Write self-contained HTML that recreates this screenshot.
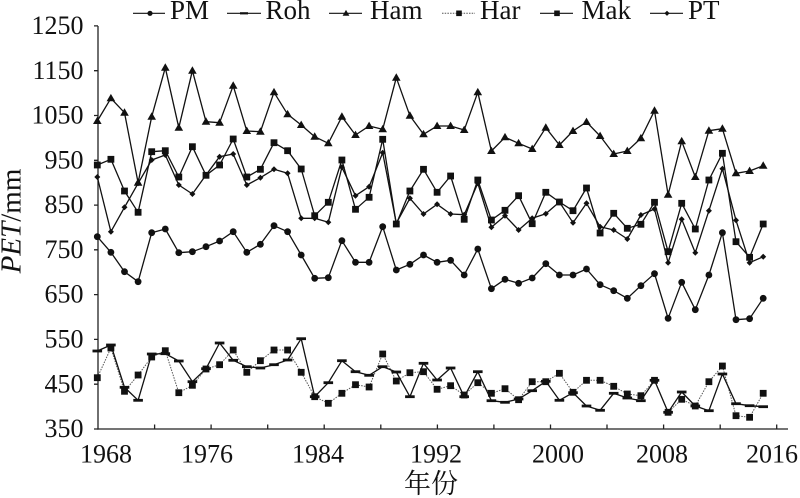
<!DOCTYPE html>
<html>
<head>
<meta charset="utf-8">
<style>
html,body{margin:0;padding:0;background:#fff;}
svg{display:block;}
text{font-family:"Liberation Serif","Noto Serif CJK SC",serif;fill:#111;}
</style>
</head>
<body>
<svg width="800" height="498" viewBox="0 0 800 498" xmlns="http://www.w3.org/2000/svg">
<defs>
  <circle id="c" r="3.4" fill="#111"/>
  <path id="t" d="M0,-4.4 L4.3,3 L-4.3,3Z" fill="#111"/>
  <rect id="s" x="-3.4" y="-3.4" width="6.8" height="6.8" fill="#111"/>
  <rect id="d" x="-4.8" y="-1.4" width="9.6" height="2.8" fill="#111"/>
  <path id="m" d="M0,-3 L3,0 L0,3 L-3,0Z" fill="#111"/>
  <circle id="lc" r="2.6" fill="#111"/>
  <path id="lt" d="M0,-3.4 L3.4,2.4 L-3.4,2.4Z" fill="#111"/>
  <rect id="ls" x="-2.8" y="-2.8" width="5.6" height="5.6" fill="#111"/>
  <rect id="ld" x="-4" y="-1.1" width="8" height="2.2" fill="#111"/>
  <path id="lm" d="M0,-2.6 L2.6,0 L0,2.6 L-2.6,0Z" fill="#111"/>
</defs>

<!-- Legend -->
<g stroke="#111" stroke-width="1.2">
  <line x1="133" y1="13.3" x2="165" y2="13.3"/>
  <line x1="227" y1="13.3" x2="261" y2="13.3"/>
  <line x1="329" y1="13.3" x2="362" y2="13.3"/>
  <line x1="442" y1="13.3" x2="475" y2="13.3" stroke="#555" stroke-dasharray="1.5,1.2" stroke-width="1"/>
  <line x1="540" y1="13.3" x2="573" y2="13.3"/>
  <line x1="650" y1="13.3" x2="683" y2="13.3"/>
</g>
<use href="#lc" x="150" y="13.3"/>
<use href="#ld" x="244" y="13.3"/>
<use href="#lt" x="346" y="13.3"/>
<use href="#ls" x="459" y="13.3"/>
<use href="#ls" x="557" y="13.3"/>
<use href="#lm" x="667" y="13.3"/>
<g font-size="27">
  <text x="170" y="19">PM</text>
  <text x="265.5" y="19">Roh</text>
  <text x="370" y="19">Ham</text>
  <text x="480" y="19">Har</text>
  <text x="581.5" y="19">Mak</text>
  <text x="688" y="19">PT</text>
</g>

<!-- Axes -->
<g stroke="#222" stroke-width="1.3" fill="none">
  <line x1="98" y1="26" x2="98" y2="429.6"/>
  <line x1="97.4" y1="429" x2="788" y2="429"/>
  <path d="M94,25.9H98 M94,70.7H98 M94,115.5H98 M94,160.3H98 M94,205.1H98 M94,249.8H98 M94,294.6H98 M94,339.4H98 M94,384.2H98 M94,429H98"/>
  <path d="M154.6,429V424.5 M211.1,429V424.5 M267.7,429V424.5 M324.2,429V424.5 M380.8,429V424.5 M437.4,429V424.5 M493.9,429V424.5 M550.5,429V424.5 M607,429V424.5 M663.6,429V424.5 M720.2,429V424.5 M776.7,429V424.5"/>
</g>

<!-- Y tick labels -->
<g font-size="26" text-anchor="end">
  <text x="83.5" y="34">1250</text>
  <text x="83.5" y="78.8">1150</text>
  <text x="83.5" y="123.6">1050</text>
  <text x="83.5" y="168.4">950</text>
  <text x="83.5" y="213.2">850</text>
  <text x="83.5" y="257.9">750</text>
  <text x="83.5" y="302.7">650</text>
  <text x="83.5" y="347.5">550</text>
  <text x="83.5" y="392.3">450</text>
  <text x="83.5" y="437.1">350</text>
</g>
<!-- X tick labels -->
<g font-size="26" text-anchor="middle">
  <text x="106" y="462.5">1968</text>
  <text x="207" y="462.5">1976</text>
  <text x="318" y="462.5">1984</text>
  <text x="436" y="462.5">1992</text>
  <text x="558" y="462.5">2000</text>
  <text x="662" y="462.5">2008</text>
  <text x="772" y="462.5">2016</text>
</g>
<text x="431" y="493" font-size="27" text-anchor="middle" font-family="'Noto Serif CJK SC','Noto Sans CJK SC',serif">年份</text>
<text transform="translate(20.5,221) rotate(-90)" font-size="29" text-anchor="middle"><tspan font-style="italic">PET</tspan>/mm</text>

<!-- Series lines -->
<g fill="none" stroke-linejoin="round">
<!-- Har dotted -->
<polyline stroke="#555" stroke-width="1" stroke-dasharray="1.5,1.2" points="97.3,377.7 110.9,348 124.5,391.3 138.1,375 151.7,357 165.3,350.7 178.8,392.7 192.4,385.3 206,369 219.6,364.7 233.2,350 246.8,372.3 260.4,360.7 274,350 287.6,350 301.2,372.3 314.7,396.7 328.3,403.3 341.9,393.3 355.5,384.7 369.1,387 382.7,354 396.3,381 409.9,372.7 423.5,371.7 437.1,389.3 450.6,385.7 464.2,395 477.8,382.7 491.4,393.3 505,388.7 518.6,399.7 532.2,381.7 545.8,381.7 559.4,373.3 573,392.3 586.5,380.3 600.1,380.3 613.7,386.3 627.3,394 640.9,395.7 654.5,380.3 668.1,412.3 681.7,399.3 695.3,406 708.9,381.7 722.4,366 736,415.7 749.6,417.3 763.2,393.3"/>
<g stroke="#111" stroke-width="1.3">
<!-- Roh -->
<polyline points="97.3,351 110.9,345 124.5,387.3 138.1,400.3 151.7,354 165.3,353.7 178.8,361 192.4,381.7 206,368.7 219.6,343 233.2,360.3 246.8,366.7 260.4,368 274,364.7 287.6,360 301.2,338.7 314.7,396.7 328.3,382.7 341.9,360.7 355.5,371.7 369.1,375.3 382.7,366.7 396.3,372 409.9,396.7 423.5,363.3 437.1,380 450.6,368 464.2,396.7 477.8,371.7 491.4,400.7 505,402.3 518.6,399 532.2,390.7 545.8,381.3 559.4,400.3 573,392.7 586.5,406 600.1,410.3 613.7,393.3 627.3,398 640.9,400.7 654.5,380.3 668.1,412.3 681.7,392 695.3,406 708.9,410.7 722.4,374 736,403.7 749.6,405.7 763.2,406.7"/>
<!-- PM -->
<polyline points="97.3,236.7 110.9,252.3 124.5,271.7 138.1,281.7 151.7,232.7 165.3,229 178.8,252.7 192.4,251.7 206,246.7 219.6,241 233.2,231.7 246.8,252.3 260.4,244.3 274,225.7 287.6,231.7 301.2,255 314.7,278.3 328.3,277.7 341.9,240.7 355.5,262.3 369.1,262.3 382.7,226.7 396.3,270 409.9,264.3 423.5,255 437.1,262.3 450.6,260.3 464.2,275 477.8,249 491.4,288.7 505,279.3 518.6,283.3 532.2,278 545.8,263.7 559.4,275 573,275 586.5,269 600.1,284.7 613.7,290.7 627.3,298.3 640.9,285.7 654.5,273.7 668.1,318.3 681.7,282.3 695.3,309.7 708.9,275 722.4,232.7 736,319.7 749.6,318.7 763.2,298.3"/>
<!-- PT -->
<polyline points="97.3,177 110.9,231.7 124.5,207.3 138.1,183.3 151.7,160 165.3,155 178.8,185 192.4,194 206,175 219.6,156.7 233.2,154 246.8,185 260.4,177.7 274,169.3 287.6,173.3 301.2,218.3 314.7,218.3 328.3,222.3 341.9,167.3 355.5,195.7 369.1,186.7 382.7,152.7 396.3,223.3 409.9,198.3 423.5,214 437.1,204.3 450.6,214 464.2,214.7 477.8,183.3 491.4,227.3 505,215.7 518.6,230 532.2,218.3 545.8,213.7 559.4,202 573,222.7 586.5,203.3 600.1,226.7 613.7,230 627.3,239 640.9,215 654.5,209 668.1,262.7 681.7,219.3 695.3,252.7 708.9,210.7 722.4,168.7 736,220.3 749.6,262.7 763.2,256.7"/>
<!-- Mak -->
<polyline points="97.3,165 110.9,159.3 124.5,191 138.1,212.3 151.7,151.7 165.3,150.7 178.8,177 192.4,146.7 206,175.3 219.6,165 233.2,139 246.8,177 260.4,169.3 274,142.7 287.6,150.7 301.2,169 314.7,215.7 328.3,202.3 341.9,160 355.5,209.3 369.1,197.3 382.7,139.3 396.3,224 409.9,191 423.5,169.3 437.1,192.3 450.6,176 464.2,219.3 477.8,180 491.4,220 505,210.3 518.6,195.7 532.2,223.7 545.8,192.3 559.4,202 573,210.7 586.5,188 600.1,233 613.7,213.3 627.3,228.3 640.9,224.3 654.5,202.3 668.1,251.7 681.7,203.3 695.3,229 708.9,180 722.4,153.3 736,241.7 749.6,257.3 763.2,224"/>
<!-- Ham -->
<polyline points="97.3,121 110.9,98.3 124.5,112.7 138.1,182.7 151.7,116.7 165.3,67.7 178.8,127.7 192.4,70.7 206,121.7 219.6,122.7 233.2,85.7 246.8,131 260.4,131.7 274,92.3 287.6,114.3 301.2,125 314.7,136.7 328.3,143.3 341.9,116.7 355.5,135 369.1,126 382.7,129.3 396.3,77.7 409.9,115.7 423.5,134.3 437.1,126 450.6,126 464.2,130 477.8,92.3 491.4,151 505,137.3 518.6,143.3 532.2,149 545.8,127.7 559.4,145 573,131 586.5,122 600.1,136 613.7,154 627.3,151 640.9,138.3 654.5,110.7 668.1,194.7 681.7,141.3 695.3,177 708.9,130.7 722.4,128.7 736,173.3 749.6,171 763.2,165.7"/>
</g>
</g>

<!-- Har markers -->
<g>
<use href="#s" x="97.3" y="377.7"/><use href="#s" x="110.9" y="348"/><use href="#s" x="124.5" y="391.3"/><use href="#s" x="138.1" y="375"/><use href="#s" x="151.7" y="357"/><use href="#s" x="165.3" y="350.7"/><use href="#s" x="178.8" y="392.7"/><use href="#s" x="192.4" y="385.3"/><use href="#s" x="206" y="369"/><use href="#s" x="219.6" y="364.7"/><use href="#s" x="233.2" y="350"/><use href="#s" x="246.8" y="372.3"/><use href="#s" x="260.4" y="360.7"/><use href="#s" x="274" y="350"/><use href="#s" x="287.6" y="350"/><use href="#s" x="301.2" y="372.3"/><use href="#s" x="314.7" y="396.7"/><use href="#s" x="328.3" y="403.3"/><use href="#s" x="341.9" y="393.3"/><use href="#s" x="355.5" y="384.7"/><use href="#s" x="369.1" y="387"/><use href="#s" x="382.7" y="354"/><use href="#s" x="396.3" y="381"/><use href="#s" x="409.9" y="372.7"/><use href="#s" x="423.5" y="371.7"/><use href="#s" x="437.1" y="389.3"/><use href="#s" x="450.6" y="385.7"/><use href="#s" x="464.2" y="395"/><use href="#s" x="477.8" y="382.7"/><use href="#s" x="491.4" y="393.3"/><use href="#s" x="505" y="388.7"/><use href="#s" x="518.6" y="399.7"/><use href="#s" x="532.2" y="381.7"/><use href="#s" x="545.8" y="381.7"/><use href="#s" x="559.4" y="373.3"/><use href="#s" x="573" y="392.3"/><use href="#s" x="586.5" y="380.3"/><use href="#s" x="600.1" y="380.3"/><use href="#s" x="613.7" y="386.3"/><use href="#s" x="627.3" y="394"/><use href="#s" x="640.9" y="395.7"/><use href="#s" x="654.5" y="380.3"/><use href="#s" x="668.1" y="412.3"/><use href="#s" x="681.7" y="399.3"/><use href="#s" x="695.3" y="406"/><use href="#s" x="708.9" y="381.7"/><use href="#s" x="722.4" y="366"/><use href="#s" x="736" y="415.7"/><use href="#s" x="749.6" y="417.3"/><use href="#s" x="763.2" y="393.3"/>
</g>
<!-- Roh markers -->
<g>
<use href="#d" x="97.3" y="351"/><use href="#d" x="110.9" y="345"/><use href="#d" x="124.5" y="387.3"/><use href="#d" x="138.1" y="400.3"/><use href="#d" x="151.7" y="354"/><use href="#d" x="165.3" y="353.7"/><use href="#d" x="178.8" y="361"/><use href="#d" x="192.4" y="381.7"/><use href="#d" x="206" y="368.7"/><use href="#d" x="219.6" y="343"/><use href="#d" x="233.2" y="360.3"/><use href="#d" x="246.8" y="366.7"/><use href="#d" x="260.4" y="368"/><use href="#d" x="274" y="364.7"/><use href="#d" x="287.6" y="360"/><use href="#d" x="301.2" y="338.7"/><use href="#d" x="314.7" y="396.7"/><use href="#d" x="328.3" y="382.7"/><use href="#d" x="341.9" y="360.7"/><use href="#d" x="355.5" y="371.7"/><use href="#d" x="369.1" y="375.3"/><use href="#d" x="382.7" y="366.7"/><use href="#d" x="396.3" y="372"/><use href="#d" x="409.9" y="396.7"/><use href="#d" x="423.5" y="363.3"/><use href="#d" x="437.1" y="380"/><use href="#d" x="450.6" y="368"/><use href="#d" x="464.2" y="396.7"/><use href="#d" x="477.8" y="371.7"/><use href="#d" x="491.4" y="400.7"/><use href="#d" x="505" y="402.3"/><use href="#d" x="518.6" y="399"/><use href="#d" x="532.2" y="390.7"/><use href="#d" x="545.8" y="381.3"/><use href="#d" x="559.4" y="400.3"/><use href="#d" x="573" y="392.7"/><use href="#d" x="586.5" y="406"/><use href="#d" x="600.1" y="410.3"/><use href="#d" x="613.7" y="393.3"/><use href="#d" x="627.3" y="398"/><use href="#d" x="640.9" y="400.7"/><use href="#d" x="654.5" y="380.3"/><use href="#d" x="668.1" y="412.3"/><use href="#d" x="681.7" y="392"/><use href="#d" x="695.3" y="406"/><use href="#d" x="708.9" y="410.7"/><use href="#d" x="722.4" y="374"/><use href="#d" x="736" y="403.7"/><use href="#d" x="749.6" y="405.7"/><use href="#d" x="763.2" y="406.7"/>
</g>
<!-- PM markers -->
<g>
<use href="#c" x="97.3" y="236.7"/><use href="#c" x="110.9" y="252.3"/><use href="#c" x="124.5" y="271.7"/><use href="#c" x="138.1" y="281.7"/><use href="#c" x="151.7" y="232.7"/><use href="#c" x="165.3" y="229"/><use href="#c" x="178.8" y="252.7"/><use href="#c" x="192.4" y="251.7"/><use href="#c" x="206" y="246.7"/><use href="#c" x="219.6" y="241"/><use href="#c" x="233.2" y="231.7"/><use href="#c" x="246.8" y="252.3"/><use href="#c" x="260.4" y="244.3"/><use href="#c" x="274" y="225.7"/><use href="#c" x="287.6" y="231.7"/><use href="#c" x="301.2" y="255"/><use href="#c" x="314.7" y="278.3"/><use href="#c" x="328.3" y="277.7"/><use href="#c" x="341.9" y="240.7"/><use href="#c" x="355.5" y="262.3"/><use href="#c" x="369.1" y="262.3"/><use href="#c" x="382.7" y="226.7"/><use href="#c" x="396.3" y="270"/><use href="#c" x="409.9" y="264.3"/><use href="#c" x="423.5" y="255"/><use href="#c" x="437.1" y="262.3"/><use href="#c" x="450.6" y="260.3"/><use href="#c" x="464.2" y="275"/><use href="#c" x="477.8" y="249"/><use href="#c" x="491.4" y="288.7"/><use href="#c" x="505" y="279.3"/><use href="#c" x="518.6" y="283.3"/><use href="#c" x="532.2" y="278"/><use href="#c" x="545.8" y="263.7"/><use href="#c" x="559.4" y="275"/><use href="#c" x="573" y="275"/><use href="#c" x="586.5" y="269"/><use href="#c" x="600.1" y="284.7"/><use href="#c" x="613.7" y="290.7"/><use href="#c" x="627.3" y="298.3"/><use href="#c" x="640.9" y="285.7"/><use href="#c" x="654.5" y="273.7"/><use href="#c" x="668.1" y="318.3"/><use href="#c" x="681.7" y="282.3"/><use href="#c" x="695.3" y="309.7"/><use href="#c" x="708.9" y="275"/><use href="#c" x="722.4" y="232.7"/><use href="#c" x="736" y="319.7"/><use href="#c" x="749.6" y="318.7"/><use href="#c" x="763.2" y="298.3"/>
</g>
<!-- PT markers -->
<g>
<use href="#m" x="97.3" y="177"/><use href="#m" x="110.9" y="231.7"/><use href="#m" x="124.5" y="207.3"/><use href="#m" x="138.1" y="183.3"/><use href="#m" x="151.7" y="160"/><use href="#m" x="165.3" y="155"/><use href="#m" x="178.8" y="185"/><use href="#m" x="192.4" y="194"/><use href="#m" x="206" y="175"/><use href="#m" x="219.6" y="156.7"/><use href="#m" x="233.2" y="154"/><use href="#m" x="246.8" y="185"/><use href="#m" x="260.4" y="177.7"/><use href="#m" x="274" y="169.3"/><use href="#m" x="287.6" y="173.3"/><use href="#m" x="301.2" y="218.3"/><use href="#m" x="314.7" y="218.3"/><use href="#m" x="328.3" y="222.3"/><use href="#m" x="341.9" y="167.3"/><use href="#m" x="355.5" y="195.7"/><use href="#m" x="369.1" y="186.7"/><use href="#m" x="382.7" y="152.7"/><use href="#m" x="396.3" y="223.3"/><use href="#m" x="409.9" y="198.3"/><use href="#m" x="423.5" y="214"/><use href="#m" x="437.1" y="204.3"/><use href="#m" x="450.6" y="214"/><use href="#m" x="464.2" y="214.7"/><use href="#m" x="477.8" y="183.3"/><use href="#m" x="491.4" y="227.3"/><use href="#m" x="505" y="215.7"/><use href="#m" x="518.6" y="230"/><use href="#m" x="532.2" y="218.3"/><use href="#m" x="545.8" y="213.7"/><use href="#m" x="559.4" y="202"/><use href="#m" x="573" y="222.7"/><use href="#m" x="586.5" y="203.3"/><use href="#m" x="600.1" y="226.7"/><use href="#m" x="613.7" y="230"/><use href="#m" x="627.3" y="239"/><use href="#m" x="640.9" y="215"/><use href="#m" x="654.5" y="209"/><use href="#m" x="668.1" y="262.7"/><use href="#m" x="681.7" y="219.3"/><use href="#m" x="695.3" y="252.7"/><use href="#m" x="708.9" y="210.7"/><use href="#m" x="722.4" y="168.7"/><use href="#m" x="736" y="220.3"/><use href="#m" x="749.6" y="262.7"/><use href="#m" x="763.2" y="256.7"/>
</g>
<!-- Mak markers -->
<g>
<use href="#s" x="97.3" y="165"/><use href="#s" x="110.9" y="159.3"/><use href="#s" x="124.5" y="191"/><use href="#s" x="138.1" y="212.3"/><use href="#s" x="151.7" y="151.7"/><use href="#s" x="165.3" y="150.7"/><use href="#s" x="178.8" y="177"/><use href="#s" x="192.4" y="146.7"/><use href="#s" x="206" y="175.3"/><use href="#s" x="219.6" y="165"/><use href="#s" x="233.2" y="139"/><use href="#s" x="246.8" y="177"/><use href="#s" x="260.4" y="169.3"/><use href="#s" x="274" y="142.7"/><use href="#s" x="287.6" y="150.7"/><use href="#s" x="301.2" y="169"/><use href="#s" x="314.7" y="215.7"/><use href="#s" x="328.3" y="202.3"/><use href="#s" x="341.9" y="160"/><use href="#s" x="355.5" y="209.3"/><use href="#s" x="369.1" y="197.3"/><use href="#s" x="382.7" y="139.3"/><use href="#s" x="396.3" y="224"/><use href="#s" x="409.9" y="191"/><use href="#s" x="423.5" y="169.3"/><use href="#s" x="437.1" y="192.3"/><use href="#s" x="450.6" y="176"/><use href="#s" x="464.2" y="219.3"/><use href="#s" x="477.8" y="180"/><use href="#s" x="491.4" y="220"/><use href="#s" x="505" y="210.3"/><use href="#s" x="518.6" y="195.7"/><use href="#s" x="532.2" y="223.7"/><use href="#s" x="545.8" y="192.3"/><use href="#s" x="559.4" y="202"/><use href="#s" x="573" y="210.7"/><use href="#s" x="586.5" y="188"/><use href="#s" x="600.1" y="233"/><use href="#s" x="613.7" y="213.3"/><use href="#s" x="627.3" y="228.3"/><use href="#s" x="640.9" y="224.3"/><use href="#s" x="654.5" y="202.3"/><use href="#s" x="668.1" y="251.7"/><use href="#s" x="681.7" y="203.3"/><use href="#s" x="695.3" y="229"/><use href="#s" x="708.9" y="180"/><use href="#s" x="722.4" y="153.3"/><use href="#s" x="736" y="241.7"/><use href="#s" x="749.6" y="257.3"/><use href="#s" x="763.2" y="224"/>
</g>
<!-- Ham markers -->
<g>
<use href="#t" x="97.3" y="121"/><use href="#t" x="110.9" y="98.3"/><use href="#t" x="124.5" y="112.7"/><use href="#t" x="138.1" y="182.7"/><use href="#t" x="151.7" y="116.7"/><use href="#t" x="165.3" y="67.7"/><use href="#t" x="178.8" y="127.7"/><use href="#t" x="192.4" y="70.7"/><use href="#t" x="206" y="121.7"/><use href="#t" x="219.6" y="122.7"/><use href="#t" x="233.2" y="85.7"/><use href="#t" x="246.8" y="131"/><use href="#t" x="260.4" y="131.7"/><use href="#t" x="274" y="92.3"/><use href="#t" x="287.6" y="114.3"/><use href="#t" x="301.2" y="125"/><use href="#t" x="314.7" y="136.7"/><use href="#t" x="328.3" y="143.3"/><use href="#t" x="341.9" y="116.7"/><use href="#t" x="355.5" y="135"/><use href="#t" x="369.1" y="126"/><use href="#t" x="382.7" y="129.3"/><use href="#t" x="396.3" y="77.7"/><use href="#t" x="409.9" y="115.7"/><use href="#t" x="423.5" y="134.3"/><use href="#t" x="437.1" y="126"/><use href="#t" x="450.6" y="126"/><use href="#t" x="464.2" y="130"/><use href="#t" x="477.8" y="92.3"/><use href="#t" x="491.4" y="151"/><use href="#t" x="505" y="137.3"/><use href="#t" x="518.6" y="143.3"/><use href="#t" x="532.2" y="149"/><use href="#t" x="545.8" y="127.7"/><use href="#t" x="559.4" y="145"/><use href="#t" x="573" y="131"/><use href="#t" x="586.5" y="122"/><use href="#t" x="600.1" y="136"/><use href="#t" x="613.7" y="154"/><use href="#t" x="627.3" y="151"/><use href="#t" x="640.9" y="138.3"/><use href="#t" x="654.5" y="110.7"/><use href="#t" x="668.1" y="194.7"/><use href="#t" x="681.7" y="141.3"/><use href="#t" x="695.3" y="177"/><use href="#t" x="708.9" y="130.7"/><use href="#t" x="722.4" y="128.7"/><use href="#t" x="736" y="173.3"/><use href="#t" x="749.6" y="171"/><use href="#t" x="763.2" y="165.7"/>
</g>
</svg>
</body>
</html>
